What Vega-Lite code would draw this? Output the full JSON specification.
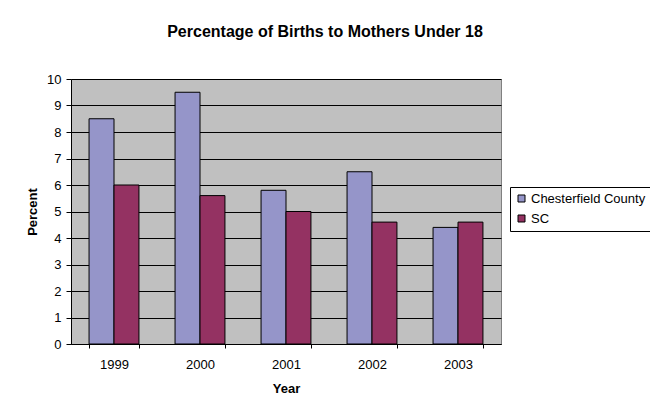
{
  "$schema": "https://vega.github.io/schema/vega-lite/v6.json",
  "autosize": "none",
  "width": 430,
  "height": 265,
  "padding": {"left": 71, "top": 79, "right": 149, "bottom": 59},
  "background": "white",
  "title": {
    "text": "Percentage of Births to Mothers Under 18",
    "font": "Liberation Sans",
    "fontSize": 16,
    "fontWeight": "bold",
    "color": "black",
    "anchor": "middle",
    "dx": 39,
    "offset": 33
  },
  "data": {
    "values": [
      {"Year": "1999", "Area": "Chesterfield County", "Percent": 8.5},
      {"Year": "1999", "Area": "SC", "Percent": 6.0},
      {"Year": "2000", "Area": "Chesterfield County", "Percent": 9.5},
      {"Year": "2000", "Area": "SC", "Percent": 5.6},
      {"Year": "2001", "Area": "Chesterfield County", "Percent": 5.8},
      {"Year": "2001", "Area": "SC", "Percent": 5.0},
      {"Year": "2002", "Area": "Chesterfield County", "Percent": 6.5},
      {"Year": "2002", "Area": "SC", "Percent": 4.6},
      {"Year": "2003", "Area": "Chesterfield County", "Percent": 4.4},
      {"Year": "2003", "Area": "SC", "Percent": 4.6}
    ]
  },
  "mark": {"type": "bar", "stroke": "black", "strokeWidth": 1},
  "encoding": {
    "x": {
      "field": "Year",
      "type": "nominal",
      "scale": {"paddingInner": 0.42, "paddingOuter": 0.21},
      "axis": {
        "title": "Year",
        "labelAngle": 0,
        "tickBand": "extent",
        "grid": false,
        "domainColor": "black",
        "tickColor": "black",
        "tickSize": 4,
        "labelPadding": 10,
        "titlePadding": 11
      }
    },
    "xOffset": {"field": "Area", "type": "nominal", "scale": {"paddingInner": 0, "paddingOuter": 0}},
    "y": {
      "field": "Percent",
      "type": "quantitative",
      "scale": {"domain": [0, 10], "nice": false},
      "axis": {
        "title": "Percent",
        "values": [0, 1, 2, 3, 4, 5, 6, 7, 8, 9, 10],
        "grid": true,
        "gridColor": "black",
        "gridOpacity": 1,
        "domainColor": "black",
        "tickColor": "black",
        "tickSize": 5,
        "labelPadding": 5,
        "titlePadding": 7
      }
    },
    "color": {
      "field": "Area",
      "type": "nominal",
      "scale": {"domain": ["Chesterfield County", "SC"], "range": ["#9595C9", "#943262"]},
      "legend": {
        "title": null,
        "orient": "none",
        "legendX": 439,
        "legendY": 108,
        "strokeColor": "black",
        "padding": 5,
        "symbolType": "square",
        "symbolSize": 49,
        "symbolStrokeColor": "black",
        "symbolStrokeWidth": 1,
        "rowPadding": 6,
        "labelFontSize": 13,
        "labelOffset": 3
      }
    }
  },
  "config": {
    "font": "Liberation Sans",
    "view": {"fill": "#C0C0C0", "stroke": "#808080", "strokeWidth": 1},
    "axis": {
      "labelFont": "Liberation Sans",
      "labelFontSize": 13,
      "labelColor": "black",
      "titleFont": "Liberation Sans",
      "titleFontSize": 13,
      "titleFontWeight": "bold",
      "titleColor": "black",
      "domainWidth": 1,
      "tickWidth": 1
    },
    "legend": {"labelFont": "Liberation Sans", "labelColor": "black"}
  }
}
